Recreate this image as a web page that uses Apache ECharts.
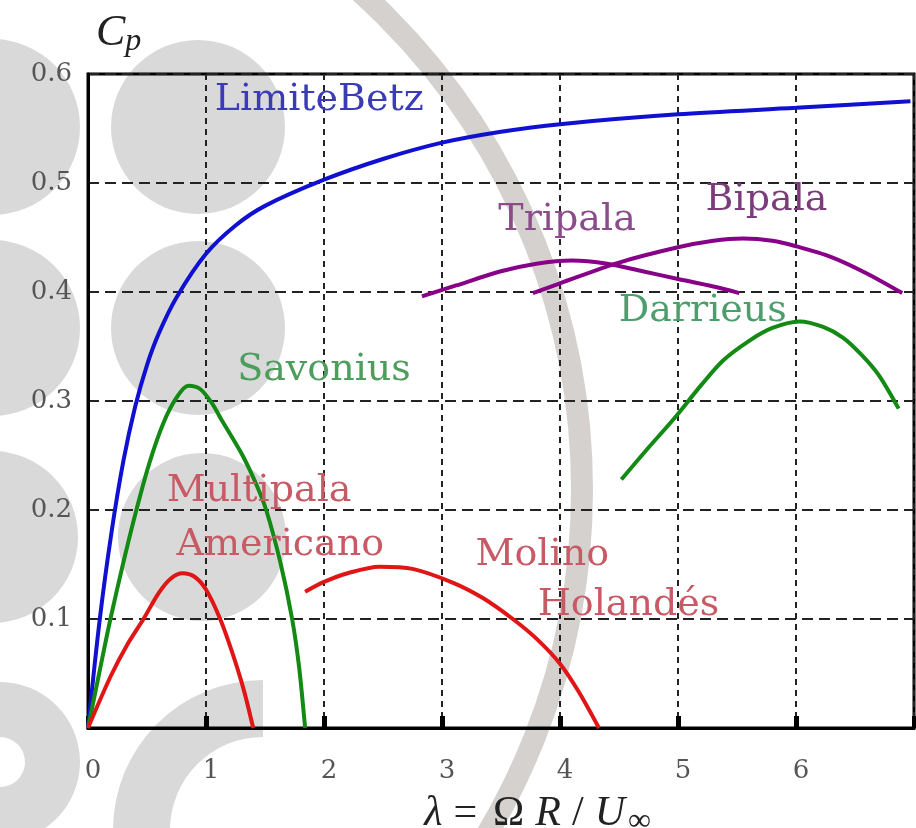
<!DOCTYPE html>
<html><head><meta charset="utf-8">
<script src="https://cdn.jsdelivr.net/npm/echarts@6/dist/echarts.min.js"></script>
<style>html,body{margin:0;padding:0;background:#fff}#c{width:916px;height:828px}</style>
</head><body><div id="c"></div>
<script>
// ---- data (lambda, Cp) ----
const xTickLabels = ['0','1','2','3','4','5','6'];
const yTickLabels = ['0.1','0.2','0.3','0.4','0.5','0.6'];

const betz = [[0,0],[0.1,0.1],[0.2,0.18],[0.3,0.245],[0.4,0.295],[0.5,0.333],[0.6,0.362],[0.75,0.395],[1,0.435],[1.25,0.461],[1.5,0.479],[2,0.503],[2.5,0.522],[3,0.537],[3.5,0.547],[4,0.554],[5,0.563],[6,0.569],[6.97,0.575]];
const savonius = [[0,0],[0.1,0.053],[0.19,0.1],[0.3,0.152],[0.41,0.2],[0.52,0.243],[0.64,0.28],[0.75,0.303],[0.85,0.314],[0.95,0.311],[1.05,0.298],[1.13,0.283],[1.3,0.252],[1.42,0.225],[1.51,0.2],[1.63,0.152],[1.73,0.1],[1.79,0.055],[1.84,0]];
const multipala = [[0,0],[0.19,0.047],[0.33,0.076],[0.47,0.1],[0.6,0.124],[0.7,0.137],[0.8,0.142],[0.9,0.139],[1.0,0.127],[1.12,0.1],[1.22,0.07],[1.32,0.035],[1.4,0]];
const molino = [[1.84,0.125],[2.0,0.134],[2.2,0.142],[2.47,0.148],[2.75,0.146],[3.1,0.133],[3.35,0.119],[3.6,0.1],[3.8,0.082],[4.0,0.059],[4.16,0.033],[4.33,0]];
const tripala = [[2.83,0.396],[3.12,0.406],[3.5,0.419],[3.8,0.426],[4.1,0.429],[4.4,0.426],[4.7,0.419],[5.0,0.412],[5.3,0.405],[5.52,0.399]];
const bipala = [[3.77,0.399],[4.0,0.408],[4.5,0.427],[5.0,0.441],[5.3,0.447],[5.55,0.449],[5.8,0.447],[6.0,0.442],[6.3,0.432],[6.6,0.417],[6.9,0.399]];
const darrieus = [[4.52,0.228],[4.74,0.256],[4.96,0.283],[5.2,0.315],[5.38,0.337],[5.6,0.355],[5.8,0.367],[6.03,0.373],[6.23,0.368],[6.4,0.358],[6.55,0.343],[6.7,0.324],[6.87,0.293]];

// ---- styling ----
const BLUE='#1010d0', GREEN='#138a13', RED='#e01515', PURPLE='#880088';
const LBL_FONT = 'DejaVu Serif';
function note(coord, text, color){
  return {coord: coord, symbolSize: 0,
    label:{show:true, position:'inside', formatter:text, color:color, fontFamily:LBL_FONT, fontSize:38}};
}
function curve(name, data, color, notes){
  return {name:name, type:'line', data:data, showSymbol:false, smooth:0.3, z:3,
    lineStyle:{color:color, width:4}, itemStyle:{color:color},
    markPoint: notes ? {symbol:'circle', symbolSize:0, silent:true, data:notes} : undefined};
}
const WM='#d9d9d9';
const chart = echarts.init(document.getElementById('c'), null, {renderer:'canvas'});
chart.setOption({
  backgroundColor:'#fff',
  animation:false,
  graphic:[
    {type:'circle', z:-10, shape:{cx:-8,cy:127,r:88}, style:{fill:WM}},
    {type:'circle', z:-10, shape:{cx:198,cy:127,r:87}, style:{fill:WM}},
    {type:'circle', z:-10, shape:{cx:-8,cy:328,r:88}, style:{fill:WM}},
    {type:'circle', z:-10, shape:{cx:198,cy:328,r:87}, style:{fill:WM}},
    {type:'circle', z:-10, shape:{cx:-8,cy:537,r:86}, style:{fill:WM}},
    {type:'circle', z:-10, shape:{cx:202,cy:537,r:84}, style:{fill:WM}},
    {type:'ring', z:-10, shape:{cx:0,cy:762,r:80,r0:25}, style:{fill:WM}},
    {type:'sector', z:-10, shape:{cx:263,cy:830,r:150,r0:93,startAngle:Math.PI/2,endAngle:Math.PI*1.5,clockwise:true}, style:{fill:WM}},
    {type:'circle', z:-10, shape:{cx:-88,cy:490,r:670}, style:{fill:'none',stroke:'#d5d1cf',lineWidth:22}}
  ],
  grid:{left:88, right:2, top:74, bottom:100, outerBoundsMode:'none', containLabel:false,
    show:true, borderColor:'#000', borderWidth:3, backgroundColor:'transparent'},
  xAxis:{type:'value', min:0, max:7, interval:1,
    name:'{l|λ}{o|=}{o|Ω}{l|R}{o|/}{l|U}{s|∞}', nameLocation:'middle', nameGap:62,
    nameTextStyle:{padding:[0,0,0,70], rich:{
      l:{fontFamily:'Liberation Serif', fontStyle:'italic', fontSize:42, color:'#222', padding:[0,3,0,3]},
      o:{fontFamily:'Liberation Serif', fontSize:42, color:'#222', padding:[0,8,0,8]},
      s:{fontFamily:'Liberation Serif', fontSize:32, color:'#222', verticalAlign:'bottom', padding:[16,0,0,0]}}},
    axisLine:{lineStyle:{color:'#000', width:3}},
    axisTick:{inside:true, length:12, lineStyle:{color:'#000', width:5}},
    axisLabel:{margin:30, padding:[0,0,0,10], fontFamily:LBL_FONT, fontSize:26, color:'#555',
      formatter:(v)=> xTickLabels[Math.round(v)] !== undefined ? xTickLabels[Math.round(v)] : ''},
    splitLine:{show:true, lineStyle:{color:'#222', width:2, type:[6,5]}}
  },
  yAxis:{type:'value', min:0, max:0.6, interval:0.1,
    name:'{c|C}{p|p}', nameLocation:'end', nameGap:16,
    nameTextStyle:{align:'left', padding:[0,0,0,8], rich:{
      c:{fontFamily:'Liberation Serif', fontStyle:'italic', fontSize:44, color:'#222'},
      p:{fontFamily:'Liberation Serif', fontStyle:'italic', fontSize:32, color:'#222', verticalAlign:'bottom', padding:[18,0,0,0]}}},
    axisLine:{lineStyle:{color:'#000', width:3}},
    axisTick:{show:false},
    axisLabel:{margin:16, fontFamily:LBL_FONT, fontSize:26, color:'#555',
      formatter:(v)=>{ const i=Math.round(v*10)-1; return i>=0 && yTickLabels[i] ? yTickLabels[i] : ''; }},
    splitLine:{show:true, lineStyle:{color:'#222', width:2, type:[11,6]}}
  },
  series:[
    curve('LimiteBetz', betz, BLUE, [note([1.96,0.576],'LimiteBetz','#3b3bb8')]),
    curve('Savonius', savonius, GREEN, [note([2.0,0.328],'Savonius','#4d9d5d')]),
    curve('Multipala Americano', multipala, RED, [note([1.45,0.217],'Multipala','#c85a66'), note([1.63,0.168],'Americano','#c85a66')]),
    curve('Molino Holandés', molino, RED, [note([3.85,0.159],'Molino','#c85a66'), note([4.58,0.113],'Holandés','#c85a66')]),
    curve('Tripala', tripala, PURPLE, [note([4.06,0.466],'Tripala','#8c4c8c')]),
    curve('Bipala', bipala, PURPLE, [note([5.75,0.484],'Bipala','#7c3c7c')]),
    curve('Darrieus', darrieus, GREEN, [note([5.21,0.382],'Darrieus','#4d9d6d')])
  ]
});
</script></body></html>
